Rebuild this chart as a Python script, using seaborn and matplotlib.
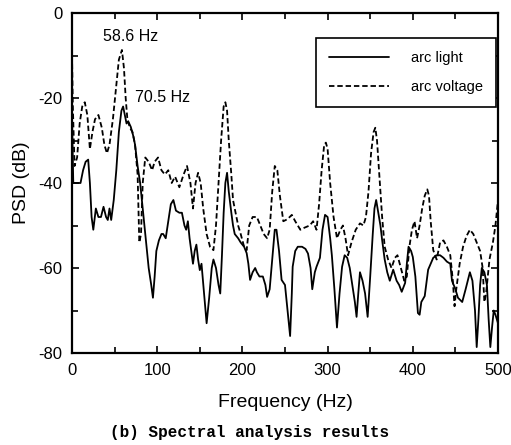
import numpy as np
import pandas as pd
import matplotlib
matplotlib.use("Agg")
import matplotlib.pyplot as plt
import seaborn as sns
from matplotlib.ticker import MultipleLocator

# ---- data ----
voltage_freq = [0, 1, 3, 6, 9, 12, 15, 18, 21, 24, 27, 31, 35, 38, 41, 44, 48, 52, 55, 58.6,
                61, 63, 65, 68, 71, 74, 77, 79, 81, 83, 86, 90, 94, 97, 101, 105, 109, 113, 117,
                121, 126, 131, 135, 139, 142, 145, 148, 151, 154, 158, 162, 166, 169, 172, 175,
                178, 180, 182, 184, 187, 189, 192, 195, 198, 202, 205, 208, 212, 217, 221, 225,
                229, 232, 235, 238, 241, 244, 248, 253, 258, 262, 268, 273, 279, 283, 287, 290,
                293, 296, 298, 300, 303, 307, 311, 315, 318, 321, 324, 328, 333, 338, 342, 345,
                348, 351, 354, 356, 358, 361, 364, 367, 371, 375, 379, 382, 386, 390, 393, 396,
                399, 402, 405, 408, 411, 414, 417, 419, 421, 424, 428, 432, 436, 440, 444, 447,
                449, 451, 455, 459, 463, 467, 471, 475, 479, 482, 484, 486, 490, 494, 497, 500]
voltage_db = [-10, -22, -36, -34, -26, -22, -21, -24, -32, -28, -25, -24, -27, -31, -33, -31, -25,
              -17, -11, -8.7, -13, -20, -25, -27, -28, -31, -38, -54, -52, -40, -34, -35, -37, -35,
              -34, -37, -38, -37, -40, -38.5, -41, -38, -36, -40, -46, -40, -37.6, -40, -46, -52,
              -55, -55.8, -50, -40, -30, -22, -21, -23, -30, -38, -44, -47, -50, -52, -55, -55.8,
              -50, -48, -48, -50, -52, -53, -51, -42, -36, -37, -43, -49, -48.5, -47.5, -49, -51,
              -50.5, -50, -49, -51, -45, -37, -31, -30.5, -32, -40, -48, -53, -51, -50, -53, -57,
              -54, -51, -49.5, -50, -48, -42, -33, -28, -27, -30, -39, -48, -55, -58, -60, -57.6,
              -57, -60, -63, -62, -55, -51, -49, -53, -50, -46, -43, -41.5, -43, -49, -55.8, -58,
              -54, -53.5, -55, -57, -63, -69, -65, -59, -55, -52.5, -51, -52, -54, -56, -60, -68,
              -66, -58, -54, -50, -44]

light_freq = [0, 0.5, 1.5, 10, 13, 16, 19, 21, 23, 25, 28, 31, 34, 37, 40, 42, 44, 46, 49, 52,
              55, 58, 60, 62, 64, 66, 69, 72, 74, 77, 80, 83, 87, 90, 93, 95, 97, 99, 102, 105,
              107, 110, 113, 116, 119, 122, 126, 129, 132, 134, 136, 138, 140, 142, 144, 146,
              148, 150, 152, 155, 158, 161, 164, 166, 169, 172, 174, 176, 178, 180, 182, 184,
              187, 189, 191, 195, 198, 202, 205, 207, 209, 212, 215, 217, 220, 224, 227, 229,
              232, 235, 238, 240, 243, 246, 250, 253, 256, 258, 259, 262, 265, 270, 274, 277,
              280, 282, 285, 287, 291, 294, 297, 300, 303, 305, 308, 311, 314, 317, 320, 323,
              326, 329, 332, 334, 336, 338, 341, 344, 347, 350, 353, 355, 357, 359, 362, 364,
              367, 370, 373, 377, 381, 384, 387, 391, 393, 395, 398, 400, 403, 406, 408, 410,
              414, 418, 421, 424, 428, 432, 436, 440, 444, 446, 450, 453, 458, 462, 467, 470,
              473, 475, 477, 479, 481, 484, 487, 489, 491, 493, 495, 497, 500]
light_db = [-24, -30, -40, -40, -37, -35, -34.5, -40, -48, -51, -46, -48, -48, -45.6, -48, -48.7,
            -46, -48.7, -44, -37, -28, -23, -22, -24, -26, -25.5, -26.8, -29, -31, -36, -40, -46,
            -54, -60, -64, -67, -62, -56, -53.5, -52, -52, -53, -49, -45, -44, -46.5, -47, -47,
            -50, -51, -49, -53, -56, -59, -56, -54.5, -58, -60.5, -59, -66, -73, -67, -60, -58,
            -60, -64, -66, -57, -47, -40, -37.6, -42, -47, -50, -52, -53, -54, -55, -56.5, -59,
            -62.8, -61, -60, -61, -62, -62, -64, -66.8, -65, -58, -51, -51, -56, -62.8, -64, -70,
            -76, -66, -59.7, -56, -55, -55, -55.5, -56.6, -60, -65, -61, -59.7, -57.6, -51, -47.5,
            -48, -53, -57, -65, -74, -66, -59.7, -57, -57.6, -60, -64, -68, -71.5, -66, -61, -63,
            -66, -71.5, -62, -52, -46, -44, -46.4, -50, -53.4, -58, -61, -63, -60.4, -63, -64,
            -65.6, -63.5, -59, -55, -56, -57.4, -62, -70.6, -71, -68, -66.6, -60.4, -59, -57.6,
            -57, -57, -57.6, -58.5, -59, -63, -65, -67, -68, -65, -61, -63, -70, -78.6, -72, -64,
            -60, -61, -64, -72, -78.6, -74, -70, -71, -73]

series_names = ["arc light", "arc voltage"]
x_ticks = [0, 100, 200, 300, 400, 500]
y_ticks = [-80, -60, -40, -20, 0]

df = pd.concat([
    pd.DataFrame({"Frequency": light_freq, "PSD": light_db, "series": series_names[0]}),
    pd.DataFrame({"Frequency": voltage_freq, "PSD": voltage_db, "series": series_names[1]}),
], ignore_index=True)

sns.set_style("ticks")
plt.rcParams["font.family"] = ["Liberation Sans", "DejaVu Sans"]
plt.rcParams["axes.unicode_minus"] = False
for k in ["text.color", "axes.labelcolor", "xtick.color", "ytick.color"]:
    plt.rcParams[k] = "black"

fig = plt.figure(figsize=(5.11, 4.45), dpi=100)
ax = fig.add_axes([72/511, 1-353/445, 426/511, 340/445])

sns.lineplot(data=df, x="Frequency", y="PSD", style="series", style_order=series_names,
             dashes={"arc light": "", "arc voltage": (3, 1.6)}, color="black",
             estimator=None, sort=False, linewidth=1.3, ax=ax)

ax.set_xlim(0, 500)
ax.set_ylim(-80, 0)
ax.set_xticks(x_ticks)
ax.set_yticks(y_ticks)
ax.xaxis.set_minor_locator(MultipleLocator(50))
ax.yaxis.set_minor_locator(MultipleLocator(10))
ax.tick_params(which="both", direction="in", top=True, right=True, width=1.2, color="black",
               labelcolor="black")
ax.tick_params(which="major", length=5, labelsize=12, pad=7)
ax.tick_params(which="minor", length=4)
for s in ax.spines.values():
    s.set_linewidth(1.6)
    s.set_color("black")
    s.set_visible(True)

ax.set_xlabel("Frequency (Hz)", fontsize=14, labelpad=12, color="black")
ax.set_ylabel("PSD (dB)", fontsize=14, labelpad=6, color="black")

ax.text(69, -5.5, "58.6 Hz", fontsize=11.5, ha="center", va="center", color="black")
ax.text(106, -20, "70.5 Hz", fontsize=11.5, ha="center", va="center", color="black")

leg = ax.legend(loc="upper right", bbox_to_anchor=(0.995, 0.926), fontsize=10.5,
                frameon=True, fancybox=False, framealpha=1, edgecolor="black",
                handlelength=4.1, handletextpad=1.5, labelspacing=1.0, borderpad=0.9,
                borderaxespad=0)
leg.get_frame().set_linewidth(1.2)
for t in leg.get_texts():
    t.set_color("black")

fig.text(250/511, 1-432/445, "(b) Spectral analysis results", ha="center", va="center",
         fontsize=11.5, family="Liberation Mono", weight="bold", color="black")

fig.savefig("out.png", dpi=100)
